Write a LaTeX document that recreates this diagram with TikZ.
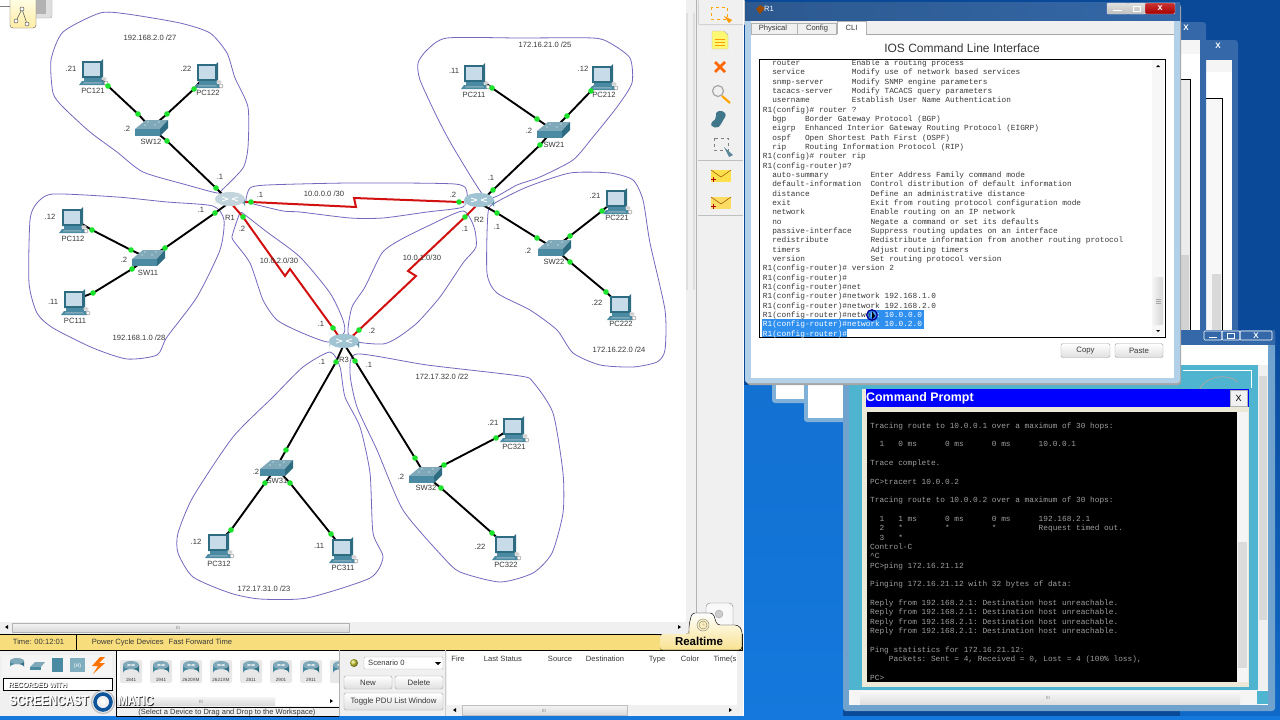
\documentclass[tikz,border=0pt]{standalone}
\usepackage{fontspec}
\setmainfont{Liberation Sans}
\setmonofont{Liberation Mono}
\definecolor{cloudc}{HTML}{7468BE}
\definecolor{greend}{HTML}{1BE32B}
\definecolor{redl}{HTML}{D21010}
\definecolor{teal}{HTML}{4A8BA3}
\definecolor{teald}{HTML}{2E6C82}
\definecolor{tealt}{HTML}{7FA8B8}
\definecolor{screenc}{HTML}{C7DCE8}
\definecolor{panel}{HTML}{F0F0F0}
\definecolor{statusy}{HTML}{F7DD7C}
\definecolor{deskd}{HTML}{0A4898}
\definecolor{deskb}{HTML}{1478DC}
\definecolor{glass}{HTML}{7FB0D8}
\definecolor{titleb}{HTML}{3468A8}
\definecolor{cream}{HTML}{ECE9D8}
\definecolor{tealw}{HTML}{4FB4CF}
\definecolor{hilite}{HTML}{2F8FEF}
\definecolor{txt}{HTML}{383838}
\pgfdeclarelayer{back}
\pgfsetlayers{back,main}
\newcount\labn
\newcommand{\lab}[3]{\global\advance\labn by 1 \node[lbl] (lab\the\labn) at (#1,#2) {#3};}
\newcommand{\lan}[4]{%
 \node[dot] (#1-#2-a) at (#3) {};
 \node[dot] (#1-#2-b) at (#4) {};
 \begin{pgfonlayer}{back}
 \draw[lanl] (#1) -- (#1-#2-a.center) -- (#1-#2-b.center) -- (#2);
 \end{pgfonlayer}}
\newcommand{\wan}[6]{%
 \node[dot] (#1-#2-a) at (#3) {};
 \node[dot] (#1-#2-b) at (#6) {};
 \coordinate (#1-#2-y) at (#4);
 \coordinate (#1-#2-z) at (#5);
 \begin{pgfonlayer}{back}
 \draw[wanl] (#1) -- (#1-#2-a.center) -- (#1-#2-y) -- (#1-#2-z) -- (#1-#2-b.center) -- (#2);
 \end{pgfonlayer}}
\newcommand{\cloudp}[1]{\begin{pgfonlayer}{back}\draw[cloudl] plot[smooth cycle,tension=.4] coordinates {#1};\end{pgfonlayer}}
\tikzset{
 x=1pt,y=-1pt,
 lbl/.style={font=\fontsize{7.6}{9}\selectfont,text=txt,inner sep=0pt,text height=5.5pt,text depth=1.5pt},
 dot/.style={circle,fill=greend,inner sep=0pt,minimum size=5.6pt},
 lanl/.style={black,line width=1.9pt},
 wanl/.style={redl,line width=2pt,line join=miter},
 cloudl/.style={cloudc,line width=.8pt},
 btnst/.style={draw=gray!70,rounded corners=1.5pt,top color=white,bottom color=gray!25,font=\fontsize{7.8}{9}\selectfont,text=txt,inner sep=0pt},
 pics/pcicon/.style={code={
  \fill[teald] (-10,-9) -- (9,-9) -- (11,-11) -- (11,7) -- (9,8) -- (-10,8) -- cycle;
  \fill[screenc] (-8,-7) rectangle (8,6);
  \fill[teal] (-8,8) rectangle (10,11);
  \fill[teal] (-10,11) -- (12,11) -- (13,15) -- (-13,15) -- cycle;
  \fill[tealt] (-8,12) -- (9,12) -- (10,13.5) -- (-9,13.5) -- cycle;
  \fill[gray!35] (12,9) ellipse (2.6 and 1.8);
  \fill[white] (14,13) ellipse (2 and 2);
  \draw[gray,line width=.4pt] (14,13) circle (2);
 }},
 pics/swicon/.style={code={
  \fill[tealt] (-16,1) -- (-5,-8) -- (17,-8) -- (10,1) -- cycle;
  \fill[teal] (-16,1) rectangle (9,8);
  \fill[teald] (9,1) -- (17,-8) -- (17,0) -- (9,8) -- cycle;
  \fill[white] (-6,-3) circle (.7) (4,-3) circle (.7) (-3,-6) circle (.6) (8,-6) circle (.6);
 }},
 pics/ricon/.style={code={
  \colorlet{rtop}{#1}
  \shade[left color=#1,right color=teal,middle color=screenc] (-15,-3) -- (-15,4) arc[start angle=180,end angle=360,x radius=15,y radius=6] -- (15,-3) -- cycle;
  \fill[rtop!70!teal] (0,-3) ellipse (15 and 7);
  \draw[white,line width=.8pt] (-8,-5) -- (-2,-3) (8,-5) -- (2,-3) (-8,-1) -- (-2,-3) (8,-1) -- (2,-3);
 }},
 pics/ricon/.default=screenc,
 pics/rtbtn/.style={code={
  \fill[gray!18,rounded corners=2pt] (-11,-11) rectangle (11,12);
  \shade[left color=teal,right color=teald] (-8,-6) -- (-8,2) arc[start angle=180,end angle=360,x radius=8,y radius=4] -- (8,-6) -- cycle;
  \fill[tealt] (0,-6) ellipse (8 and 4);
  \draw[white,line width=.5pt] (-4,-7) -- (4,-5) (4,-7) -- (-4,-5);
 }},
 pics/envel/.style={code={
  \fill[#1] (-10,-6) rectangle (10,6);
  \draw[orange!60!black,line width=.5pt] (-10,-6) -- (0,1) -- (10,-6);
  \draw[red!70!black,line width=1pt] (-10,3) -- (-5,3) (-7.5,.5) -- (-7.5,5.5);
 }}
}
\begin{document}
\begin{tikzpicture}
\useasboundingbox (0,0) rectangle (1280,720);
% ---------- desktop
\begin{pgfonlayer}{back}
\fill[white] (0,0) rectangle (700,640);
\fill[deskd] (743,0) rectangle (1280,720);
\shade[top color=deskb!85!deskd,bottom color=deskb] (743,385) rectangle (843,720);
\shade[top color=deskd,bottom color=deskb!70!deskd] (1180,300) rectangle (1280,720);
\fill[deskb] (0,716) rectangle (1280,720);
\end{pgfonlayer}
% ---------- network layout
\coordinate (R1) at (230,202);
\coordinate (R2) at (479,203);
\coordinate (R3) at (344,344);
\coordinate (SW12) at (151,128);
\coordinate (SW11) at (148,258);
\coordinate (SW21) at (553,130);
\coordinate (SW22) at (554,248);
\coordinate (SW31) at (276,468);
\coordinate (SW32) at (425,475);
\coordinate (PC121) at (92,70);
\coordinate (PC122) at (207,73);
\coordinate (PC112) at (72,218);
\coordinate (PC111) at (74,300);
\coordinate (PC211) at (474,74);
\coordinate (PC212) at (602,75);
\coordinate (PC221) at (616,199);
\coordinate (PC222) at (620,305);
\coordinate (PC321) at (513,427);
\coordinate (PC322) at (505,545);
\coordinate (PC312) at (218,543);
\coordinate (PC311) at (342,548);
% clouds
\cloudp{(217,193)(187,185)(143,172)(117,152)(90,132)(63,107)(53,93)(51,60)(63,32)(100,13)(127,14)(180,23)(210,33)(227,53)(235,78)(248,107)(248,147)(243,168)(222,190)}
\cloudp{(213,206)(167,202)(117,197)(53,194)(37,203)(30,220)(29,283)(37,313)(53,328)(93,348)(127,359)(157,355)(167,337)(197,297)(220,250)(224,220)}
\cloudp{(246,200)(250,188)(267,185)(350,183)(455,184)(467,193)(463,207)(427,212)(383,218)(350,218)(300,212)(283,211)(250,203)}
\cloudp{(245,215)(267,232)(300,257)(330,293)(343,320)(344,333)(328,342)(300,332)(277,320)(263,300)(250,263)(233,240)(233,233)(240,213)}
\cloudp{(463,211)(430,225)(400,240)(382,253)(365,287)(352,307)(348,333)(358,342)(383,344)(397,338)(417,323)(440,297)(463,263)(476,247)(474,227)}
\cloudp{(483,195)(453,147)(437,117)(420,80)(418,63)(427,50)(447,38)(520,38)(593,38)(610,43)(630,58)(632,83)(617,107)(593,137)(573,160)(540,177)(517,185)(495,197)}
\cloudp{(495,203)(527,187)(570,173)(610,173)(633,180)(643,200)(650,243)(665,310)(665,350)(657,362)(633,367)(600,365)(573,353)(557,330)(530,310)(497,293)(487,273)(488,213)}
\cloudp{(357,354)(427,365)(520,376)(533,382)(553,413)(563,473)(563,513)(552,553)(533,573)(500,582)(460,572)(443,557)(403,510)(377,450)(357,407)(350,373)}
\cloudp{(330,352)(303,367)(273,397)(233,437)(193,497)(178,533)(178,553)(193,577)(230,593)(260,599)(307,598)(370,578)(383,557)(373,533)(370,473)(360,427)(345,397)(340,367)}
% icons
\pic at (R1) {ricon=gray!8};
\pic at (R2) {ricon};
\pic at (R3) {ricon};
\foreach \s in {SW12,SW11,SW21,SW22,SW31,SW32} \pic at (\s) {swicon};
\foreach \p in {PC121,PC122,PC112,PC111,PC211,PC212,PC221,PC222,PC321,PC322,PC312,PC311} \pic at (\p) {pcicon};
% links
\lan{PC121}{SW12}{108,86}{138,114}
\lan{PC122}{SW12}{194,89}{167,114}
\lan{SW12}{R1}{167,141}{216,188}
\lan{PC112}{SW11}{92,230}{131,250}
\lan{PC111}{SW11}{93,293}{132,269}
\lan{SW11}{R1}{165,248}{215,213}
\lan{PC211}{SW21}{492,88}{537,119}
\lan{PC212}{SW21}{591,91}{567,116}
\lan{SW21}{R2}{540,145}{493,190}
\lan{R2}{SW22}{497,213}{537,238}
\lan{PC221}{SW22}{602,211}{570,236}
\lan{PC222}{SW22}{606,292}{570,262}
\lan{R3}{SW31}{336,362}{286,450}
\lan{R3}{SW32}{355,361}{415,458}
\lan{SW31}{PC312}{265,483}{231,530}
\lan{SW31}{PC311}{290,483}{331,534}
\lan{SW32}{PC321}{444,465}{496,438}
\lan{SW32}{PC322}{441,488}{492,533}
\wan{R1}{R2}{251,202}{356,207}{354,198}{459,202}
\wan{R1}{R3}{243,217}{285,276}{290,269}{333,328}
\wan{R2}{R3}{465,217}{408,271}{416,276}{359,330}
% labels
\lab{93}{91}{PC121}\lab{208}{93}{PC122}\lab{151}{142}{SW12}\lab{230}{218}{R1}
\lab{73}{239}{PC112}\lab{148}{273}{SW11}\lab{75}{321}{PC111}
\lab{71}{69}{.21}\lab{186}{69}{.22}\lab{127}{129}{.2}\lab{220}{177}{.1}\lab{201}{210}{.1}\lab{260}{195}{.1}\lab{242}{229}{.2}
\lab{124}{260}{.2}\lab{50}{217}{.12}\lab{53}{302}{.11}
\lab{150}{38}{192.168.2.0 /27}\lab{139}{338}{192.168.1.0 /28}\lab{324}{194}{10.0.0.0 /30}\lab{279}{261}{10.0.2.0/30}\lab{422}{258}{10.0.1.0/30}
\lab{545}{45}{172.16.21.0 /25}\lab{619}{350}{172.16.22.0 /24}\lab{442}{377}{172.17.32.0 /22}\lab{264}{589}{172.17.31.0 /23}
\lab{474}{95}{PC211}\lab{604}{95}{PC212}\lab{454}{71}{.11}\lab{583}{69}{.12}\lab{554}{145}{SW21}\lab{529}{131}{.2}\lab{491}{178}{.1}\lab{453}{195}{.2}
\lab{479}{220}{R2}\lab{465}{229}{.1}\lab{497}{227}{.1}\lab{554}{262}{SW22}\lab{528}{251}{.2}\lab{617}{218}{PC221}\lab{595}{196}{.21}\lab{621}{324}{PC222}\lab{597}{303}{.22}
\lab{322}{362}{.1}\lab{344}{360}{R3}\lab{369}{365}{.1}\lab{321}{324}{.1}\lab{372}{331}{.2}
\lab{277}{481}{SW31}\lab{256}{472}{.2}\lab{219}{564}{PC312}\lab{196}{542}{.12}\lab{343}{568}{PC311}\lab{319}{546}{.11}
\lab{426}{488}{SW32}\lab{401}{477}{.2}\lab{514}{447}{PC321}\lab{493}{423}{.21}\lab{506}{565}{PC322}\lab{480}{547}{.22}
% ---------- top-left logical tab
\fill[white,draw=gray] (-3,-3) rectangle (15,6);
\fill[gray!25,draw=gray!70,rounded corners=2pt] (26,-4) rectangle (52,18);
\fill[gray!60] (34,0) rectangle (46,14);
\draw[gray!70!black,top color=yellow!8,bottom color=yellow!60!orange!35,rounded corners=3pt] (10,-4) rectangle (36,28);
\draw[gray!70!black,line width=.6pt] (16,21) -- (22,9) -- (27,24);
\draw[gray!70!black,fill=white,line width=.5pt] (16,21) circle (2) (22,9) circle (2) (27,24) circle (2);
% ---------- vertical scrollbar and toolbar
\fill[panel] (686,0) rectangle (743,634);
\draw[gray!60] (696.5,0) -- (696.5,622);
\fill[gray!25] (686,13) rectangle (695,290);
\fill[gray!12] (688,13) rectangle (693,290);
\fill[gray!35,rounded corners=1pt] (698,0) rectangle (745,25);
\fill[panel] (699,-2) rectangle (743,24);
\draw[orange!70!yellow,dashed,line width=.9pt] (711,7) rectangle (727,19);
\fill[orange!80!yellow] (724,16) -- (732,20) -- (729,23) -- cycle;
\draw[gray!60,fill=yellow!55] (712,31) -- (724,31) -- (728,35) -- (728,49) -- (712,49) -- cycle;
\draw[orange!80!yellow,line width=.6pt] (715,39) -- (725,39) (715,42) -- (725,42) (715,45) -- (725,45);
\draw[orange!80!red,line width=2.6pt] (715,62) -- (725,72) (725,62) -- (715,72);
\draw[gray!70,line width=1.2pt] (718,91) circle (5.5);
\draw[orange!70!yellow,line width=2.2pt] (722,96) -- (730,103);
\fill[teal!85!black] (712,122) .. controls (708,128) and (720,130) .. (721,124) .. controls (724,118) and (727,116) .. (725,113) .. controls (722,109) and (714,111) .. (716,116) .. controls (717,119) and (714,120) .. (712,122) -- cycle;
\draw[gray,dashed,line width=.7pt] (714,138) rectangle (728,150);
\fill[teal!70!gray] (724,147) -- (733,155) -- (729,157) -- cycle;
\draw[gray!50] (698,160.5) -- (743,160.5) (698,215.5) -- (743,215.5);
\pic at (721,176) {envel=orange!35!yellow!70};
\pic at (721,203) {envel=yellow!60!orange!60};
% ---------- horizontal scrollbar
\fill[panel] (0,622) rectangle (686,634);
\shade[top color=gray!8,bottom color=gray!30,draw=gray!60] (12,623) rectangle (349,632);
\lab{178}{627}{\textcolor{gray}{\scalebox{.6}{III}}}
\fill[black] (5,627) -- (8,625) -- (8,629) -- cycle;
\fill[black] (681,627) -- (678,625) -- (678,629) -- cycle;
% ---------- bottom panels
\fill[panel] (0,650) rectangle (743,716);
\fill[white] (116,651) rectangle (339,706);
\fill[white] (447,651) rectangle (737,705);
\fill[statusy,draw=black,line width=.5pt] (-1,634) rectangle (742,650);
\draw[black,line width=.5pt] (76,634) -- (76,650);
\node[lbl] (tm) at (38.5,642) {Time: 00:12:01};
\node[lbl] (pc) at (162,642) {Power Cycle Devices\hspace{3pt} Fast Forward Time};
\draw[gray,rounded corners=4pt,fill=gray!5] (706,632) -- (706,603) -- (733,603) -- (733,632);
\draw[gray!70,fill=gray!40] (719,614) circle (4);
\fill[top color=white,bottom color=statusy!85,rounded corners=3pt] (660,650) -- (742,650) -- (742,630) -- (738,625) -- (717,625) -- (713,613) -- (692,613) -- (689,625) -- (689,634) -- (660,634) -- cycle;
\draw[black,rounded corners=3pt] (660,650) -- (742,650) -- (742,630) -- (738,625) -- (717,625) -- (713,613) -- (692,613) -- (689,625) -- (689,634);
\draw[gray,fill=statusy!50] (703,625) circle (6);
\draw[gray] (703,625) circle (4) (703,625) -- (703,622) (703,625) -- (705,625);
\node[font=\fontsize{11.5}{12}\selectfont\bfseries,inner sep=0pt] (rt) at (699,641) {Realtime};
% device type icons
\fill[gray!8] (2,655) rectangle (112,676);
\shade[left color=teal,right color=teald] (10,661) -- (10,667) arc[start angle=180,end angle=360,x radius=7,y radius=3] -- (24,661) -- cycle;
\fill[tealt] (17,661) ellipse (7 and 3);
\fill[tealt] (30,667) -- (35,662) -- (45,662) -- (41,667) -- cycle; \fill[teal] (30,667) rectangle (41,670);
\fill[teal] (52,658) rectangle (63,672);
\fill[teal!70] (70,658) rectangle (85,672);
\lab{77.5}{665}{\textcolor{white}{\scalebox{.7}{(H)}}}
\fill[orange!90!red] (100,657) -- (92,666) -- (98,666) -- (93,674) -- (105,663) -- (99,663) -- (105,657) -- cycle;
\draw[black,line width=.4pt,fill=white] (3,678) rectangle (112,690);
\foreach \x/\t in {131/1841,161/1941,191/2620XM,221/2621XM,251/2811,281/2901,311/2911}{
  \pic at (\x,671) {rtbtn};
  \node[font=\fontsize{4.6}{5}\selectfont,text=txt,inner sep=0pt] (rb\t) at (\x,680) {\t};
}
\begin{scope}
\clip (116,651) rectangle (339,706);
\pic at (341,671) {rtbtn};
\end{scope}
\shade[top color=gray!8,bottom color=gray!28] (116,697) rectangle (275,705);
\lab{201}{701}{\textcolor{gray}{\scalebox{.6}{III}}}
\fill[black] (333,701) -- (330,699) -- (330,703) -- cycle;
\draw[black,line width=.5pt] (116,650) -- (116,716) (116,707) -- (339,707) (116,716) -- (339,716);
\draw[gray!60] (339.5,650) -- (339.5,716);
\node[lbl,font=\fontsize{7.5}{9}\selectfont] (hint) at (227,712) {(Select a Device to Drag and Drop to the Workspace)};
% scenario
\shade[ball color=yellow!60!gray] (354,663) circle (4);
\draw[gray!60,fill=white,rounded corners=1pt] (364,657) rectangle (443,669);
\node[lbl,anchor=west] (scn) at (368,663) {Scenario 0};
\fill[black] (435,662) -- (441,662) -- (438,665) -- cycle;
\node[btnst,minimum width=48pt,minimum height=13pt] (bnew) at (368,682.5) {New};
\node[btnst,minimum width=48pt,minimum height=13pt] (bdel) at (419,682.5) {Delete};
\node[btnst,minimum width=99pt,minimum height=17pt] (btog) at (393.5,701.5) {Toggle PDU List Window};
\draw[gray!40] (445.5,650) -- (445.5,716);
\foreach \x/\t in {458/Fire,503/Last Status,560/Source,605/Destination,657/Type,690/Color,725/Time(s}{
  \node[lbl] (hd\x) at (\x,659) {\t};
}
\shade[top color=gray!8,bottom color=gray!28,draw=gray!50] (462,705) rectangle (627,715);
\lab{544}{710}{\textcolor{gray}{\scalebox{.6}{III}}}
\fill[black] (453,710) -- (456,708) -- (456,712) -- cycle;
\fill[black] (732,710) -- (729,708) -- (729,712) -- cycle;
\draw[white,line width=.8pt] (743,0) -- (743,716);
% watermark
\node[font=\fontsize{7.6}{8}\selectfont\bfseries,text=black!80,inner sep=0pt] (wm0) at (38.6,685.5) {\scalebox{.9}[1]{RECORDED WITH}};
\node[font=\fontsize{7.6}{8}\selectfont\bfseries,text=white,inner sep=0pt] (wm1) at (38,685) {\scalebox{.9}[1]{RECORDED WITH}};
\node[font=\fontsize{14}{15}\selectfont\bfseries,text=black!80,inner sep=0pt] (wm2) at (50,701.8) {\scalebox{.82}[1]{SCREENCAST}};
\node[font=\fontsize{14}{15}\selectfont\bfseries,text=white,inner sep=0pt] (wm3) at (49,701) {\scalebox{.82}[1]{SCREENCAST}};
\draw[gray!50,line width=1.2pt] (103,702) circle (11.5);
\draw[deskb!70!black,line width=3.6pt] (103,702) circle (8);
\fill[white] (103,702) circle (2.8);
\node[font=\fontsize{14}{15}\selectfont\bfseries,text=black!80,inner sep=0pt] (wm4) at (136.8,701.8) {\scalebox{.82}[1]{MATIC}};
\node[font=\fontsize{14}{15}\selectfont\bfseries,text=white,inner sep=0pt] (wm5) at (136,701) {\scalebox{.82}[1]{MATIC}};
% ---------- windows behind
\fill[titleb,rounded corners=3pt] (1120,40) rectangle (1238,500);
\fill[gray!8] (1120,60) rectangle (1232,500);
\fill[white] (1120,72) rectangle (1232,500);
\fill[gray!6] (1204,98) rectangle (1222,340);
\draw[black,line width=.8pt] (1206,98.5) -- (1222,98.5) -- (1222,340);
\fill[gray!30] (1212,274) rectangle (1221,330);
\lab{1218}{46}{\textcolor{white}{\bfseries\fontsize{8}{9}\selectfont X}}
\fill[titleb,rounded corners=3pt] (1120,22) rectangle (1206,500);
\fill[gray!8] (1120,40) rectangle (1200,500);
\fill[white] (1120,54) rectangle (1200,500);
\fill[gray!15] (1178,79) rectangle (1190,340);
\fill[gray!35] (1181,255) rectangle (1189,330);
\draw[black,line width=.8pt] (1170,79.5) -- (1190.5,79.5) -- (1190.5,340);
\lab{1186}{28}{\textcolor{white}{\bfseries\fontsize{8}{9}\selectfont X}}
\fill[glass,rounded corners=3pt] (772,380) rectangle (900,403);
\fill[white] (776,380) rectangle (900,399);
\fill[glass,rounded corners=3pt] (804,380) rectangle (900,422);
\fill[white] (808,380) rectangle (900,418);
% ---------- bottom PC window
\fill[glass!80!titleb,rounded corners=3pt] (843,330) rectangle (1275,711);
\fill[titleb] (1180,330) rectangle (1275,345);
\fill[white] (849,345) rectangle (1268,705);
\fill[tealw] (849,365) rectangle (1258,690);
\draw[white,line width=.5pt] (1183,370) -- (1251,370) -- (1251,388);
\draw[gray!70,line width=.8pt] (1199,390) .. controls (1205,377) and (1225,372) .. (1238,382);
\fill[gray!12] (1258,365) rectangle (1268,690);
\fill[gray!30] (1259,376) rectangle (1267,620);
\fill[gray!8] (849,690) rectangle (1262,705);
\shade[top color=gray!5,bottom color=gray!25] (860,691) rectangle (1240,704);
\lab{1048}{697}{\textcolor{gray}{\scalebox{.6}{III}}}
\fill[tealw] (1257,691) rectangle (1268,704);
\draw[white,line width=.6pt,rounded corners=1pt] (1204,331) rectangle (1222,340);
\draw[white,line width=.6pt,rounded corners=1pt] (1222,331) rectangle (1240,340);
\draw[white,line width=.6pt,rounded corners=1pt] (1240,331) rectangle (1272,340);
\lab{1256}{336}{\textcolor{white}{\bfseries\fontsize{8}{9}\selectfont X}}
\draw[white,line width=.8pt] (1209,337) -- (1217,337);
\draw[white,line width=.7pt] (1227,333) rectangle (1234,338);
% command prompt
\fill[cream] (862,389) rectangle (1249,687);
\fill[blue] (866,389) rectangle (1249,407);
\node[font=\fontsize{12.4}{14}\selectfont\bfseries,text=white,anchor=west,inner sep=0pt] (cmdt) at (866,398) {Command Prompt};
\node[draw=gray!60,fill=gray!10,minimum width=17pt,minimum height=16pt,inner sep=0pt,font=\fontsize{9}{10}\selectfont] (cmdx) at (1238.5,398) {X};
\fill[black] (867,412) rectangle (1237,682);
\fill[gray!8] (1237,412) rectangle (1248,682);
\fill[gray!28] (1238,542) rectangle (1247,668);
\node[anchor=north west,inner sep=0pt,align=left,text=gray!75!white,font=\ttfamily\fontsize{7.8}{9.33}\selectfont] (cmdtext) at (870,422.3) {%
Tracing route to 10.0.0.1 over a maximum of 30 hops:\\
~\\
~~1~~~0 ms~~~~~~0 ms~~~~~~0 ms~~~~~~10.0.0.1\\
~\\
Trace complete.\\
~\\
PC>tracert 10.0.0.2\\
~\\
Tracing route to 10.0.0.2 over a maximum of 30 hops:\\
~\\
~~1~~~1 ms~~~~~~0 ms~~~~~~0 ms~~~~~~192.168.2.1\\
~~2~~~*~~~~~~~~~*~~~~~~~~~*~~~~~~~~~Request timed out.\\
~~3~~~*\\
Control-C\\
\textasciicircum C\\
PC>ping 172.16.21.12\\
~\\
Pinging 172.16.21.12 with 32 bytes of data:\\
~\\
Reply from 192.168.2.1: Destination host unreachable.\\
Reply from 192.168.2.1: Destination host unreachable.\\
Reply from 192.168.2.1: Destination host unreachable.\\
Reply from 192.168.2.1: Destination host unreachable.\\
~\\
Ping statistics for 172.16.21.12:\\
~~~~Packets: Sent = 4, Received = 0, Lost = 4 (100\% loss),\\
~\\
PC>};
% ---------- R1 window
\fill[black!35,rounded corners=3pt] (747,4) rectangle (1181,385);
\fill[glass!60!white,rounded corners=3pt] (745,2) rectangle (1180,383);
\shade[left color=titleb!85!black,right color=titleb] (745,2) rectangle (1180,20);
\fill[white] (751,34) rectangle (1174,378);
\fill[panel] (751,21) rectangle (1174,34);
\draw[gray!70] (751,34.5) -- (837,34.5) (866,34.5) -- (1174,34.5);
\fill[orange!60!black] (756,9) -- (760,5) -- (765,8) -- (760,14) -- cycle;
\node[lbl,text=white] (wt) at (769,10) {R1};
\draw[gray!60,fill=gray!12] (751,23) rectangle (797,34);
\draw[gray!60,fill=gray!12] (797,23) rectangle (836,34);
\draw[gray!60,fill=white] (837,34) -- (837,21) -- (866,21) -- (866,34);
\node[lbl] (tb1) at (773,28.5) {Physical};
\node[lbl] (tb2) at (817,28.5) {Config};
\node[lbl] (tb3) at (851.5,28) {CLI};
\shade[top color=gray!25,bottom color=gray!50,draw=gray!30,rounded corners=1pt] (1107,3) rectangle (1128,14);
\shade[top color=gray!25,bottom color=gray!50,draw=gray!30,rounded corners=1pt] (1128,3) rectangle (1145,14);
\shade[top color=red!60!gray,bottom color=red!65!black,draw=gray!30,rounded corners=1pt] (1145,3) rectangle (1175,14);
\draw[white,line width=1pt] (1113,10.5) -- (1122,10.5);
\draw[white,line width=.8pt] (1133,6) rectangle (1140,11);
\lab{1160}{8}{\textcolor{white}{\bfseries\fontsize{9}{10}\selectfont x}}
\node[font=\fontsize{12}{14}\selectfont,text=txt,inner sep=0pt] (ios) at (962,48.5) {IOS Command Line Interface};
\draw[black,line width=.9pt,fill=white] (759,59) rectangle (1165,337);
\fill[gray!6] (1152,60) rectangle (1164,336);
\shade[left color=gray!10,right color=gray!32,rounded corners=1pt] (1153,277) rectangle (1163,325);
\draw[gray!70,line width=.4pt] (1155.5,299) -- (1160.5,299) (1155.5,301) -- (1160.5,301) (1155.5,303) -- (1160.5,303);
\fill[black] (1158,65) -- (1156,67) -- (1160,67) -- cycle;
\fill[black] (1158,332) -- (1156,330) -- (1160,330) -- cycle;
\fill[hilite] (868,310) rectangle (924,319.4);
\fill[hilite] (762,319.4) rectangle (924,328.7);
\fill[hilite] (762,328.7) rectangle (847,336.5);
\node[anchor=north west,inner sep=0pt,align=left,text=txt,font=\ttfamily\fontsize{7.8}{9.33}\selectfont] (clitext) at (762.7,59.8) {%
~~router~~~~~~~~~~~Enable a routing process\\
~~service~~~~~~~~~~Modify use of network based services\\
~~snmp-server~~~~~~Modify SNMP engine parameters\\
~~tacacs-server~~~~Modify TACACS query parameters\\
~~username~~~~~~~~~Establish User Name Authentication\\
R1(config)\# router ?\\
~~bgp~~~~Border Gateway Protocol (BGP)\\
~~eigrp~~Enhanced Interior Gateway Routing Protocol (EIGRP)\\
~~ospf~~~Open Shortest Path First (OSPF)\\
~~rip~~~~Routing Information Protocol (RIP)\\
R1(config)\# router rip\\
R1(config-router)\#?\\
~~auto-summary~~~~~~~~~Enter Address Family command mode\\
~~default-information~~Control distribution of default information\\
~~distance~~~~~~~~~~~~~Define an administrative distance\\
~~exit~~~~~~~~~~~~~~~~~Exit from routing protocol configuration mode\\
~~network~~~~~~~~~~~~~~Enable routing on an IP network\\
~~no~~~~~~~~~~~~~~~~~~~Negate a command or set its defaults\\
~~passive-interface~~~~Suppress routing updates on an interface\\
~~redistribute~~~~~~~~~Redistribute information from another routing protocol\\
~~timers~~~~~~~~~~~~~~~Adjust routing timers\\
~~version~~~~~~~~~~~~~~Set routing protocol version\\
R1(config-router)\# version 2\\
R1(config-router)\#\\
R1(config-router)\#net\\
R1(config-router)\#network 192.168.1.0\\
R1(config-router)\#network 192.168.2.0\\
R1(config-router)\#netwo\textcolor{white}{rk 10.0.0.0}\\
\textcolor{white}{R1(config-router)\#network 10.0.2.0}\\
\textcolor{white}{R1(config-router)\#}};
\draw[blue!60!black,line width=1.3pt] (872,315) circle (5.2);
\fill[black] (872,311) -- (872,319) -- (875,316) -- cycle;
\node[btnst,minimum width=49pt,minimum height=14pt] (bcopy) at (1085.5,350.5) {Copy};
\node[btnst,minimum width=48pt,minimum height=14pt] (bpaste) at (1139,350.5) {Paste};
\end{tikzpicture}
\end{document}
